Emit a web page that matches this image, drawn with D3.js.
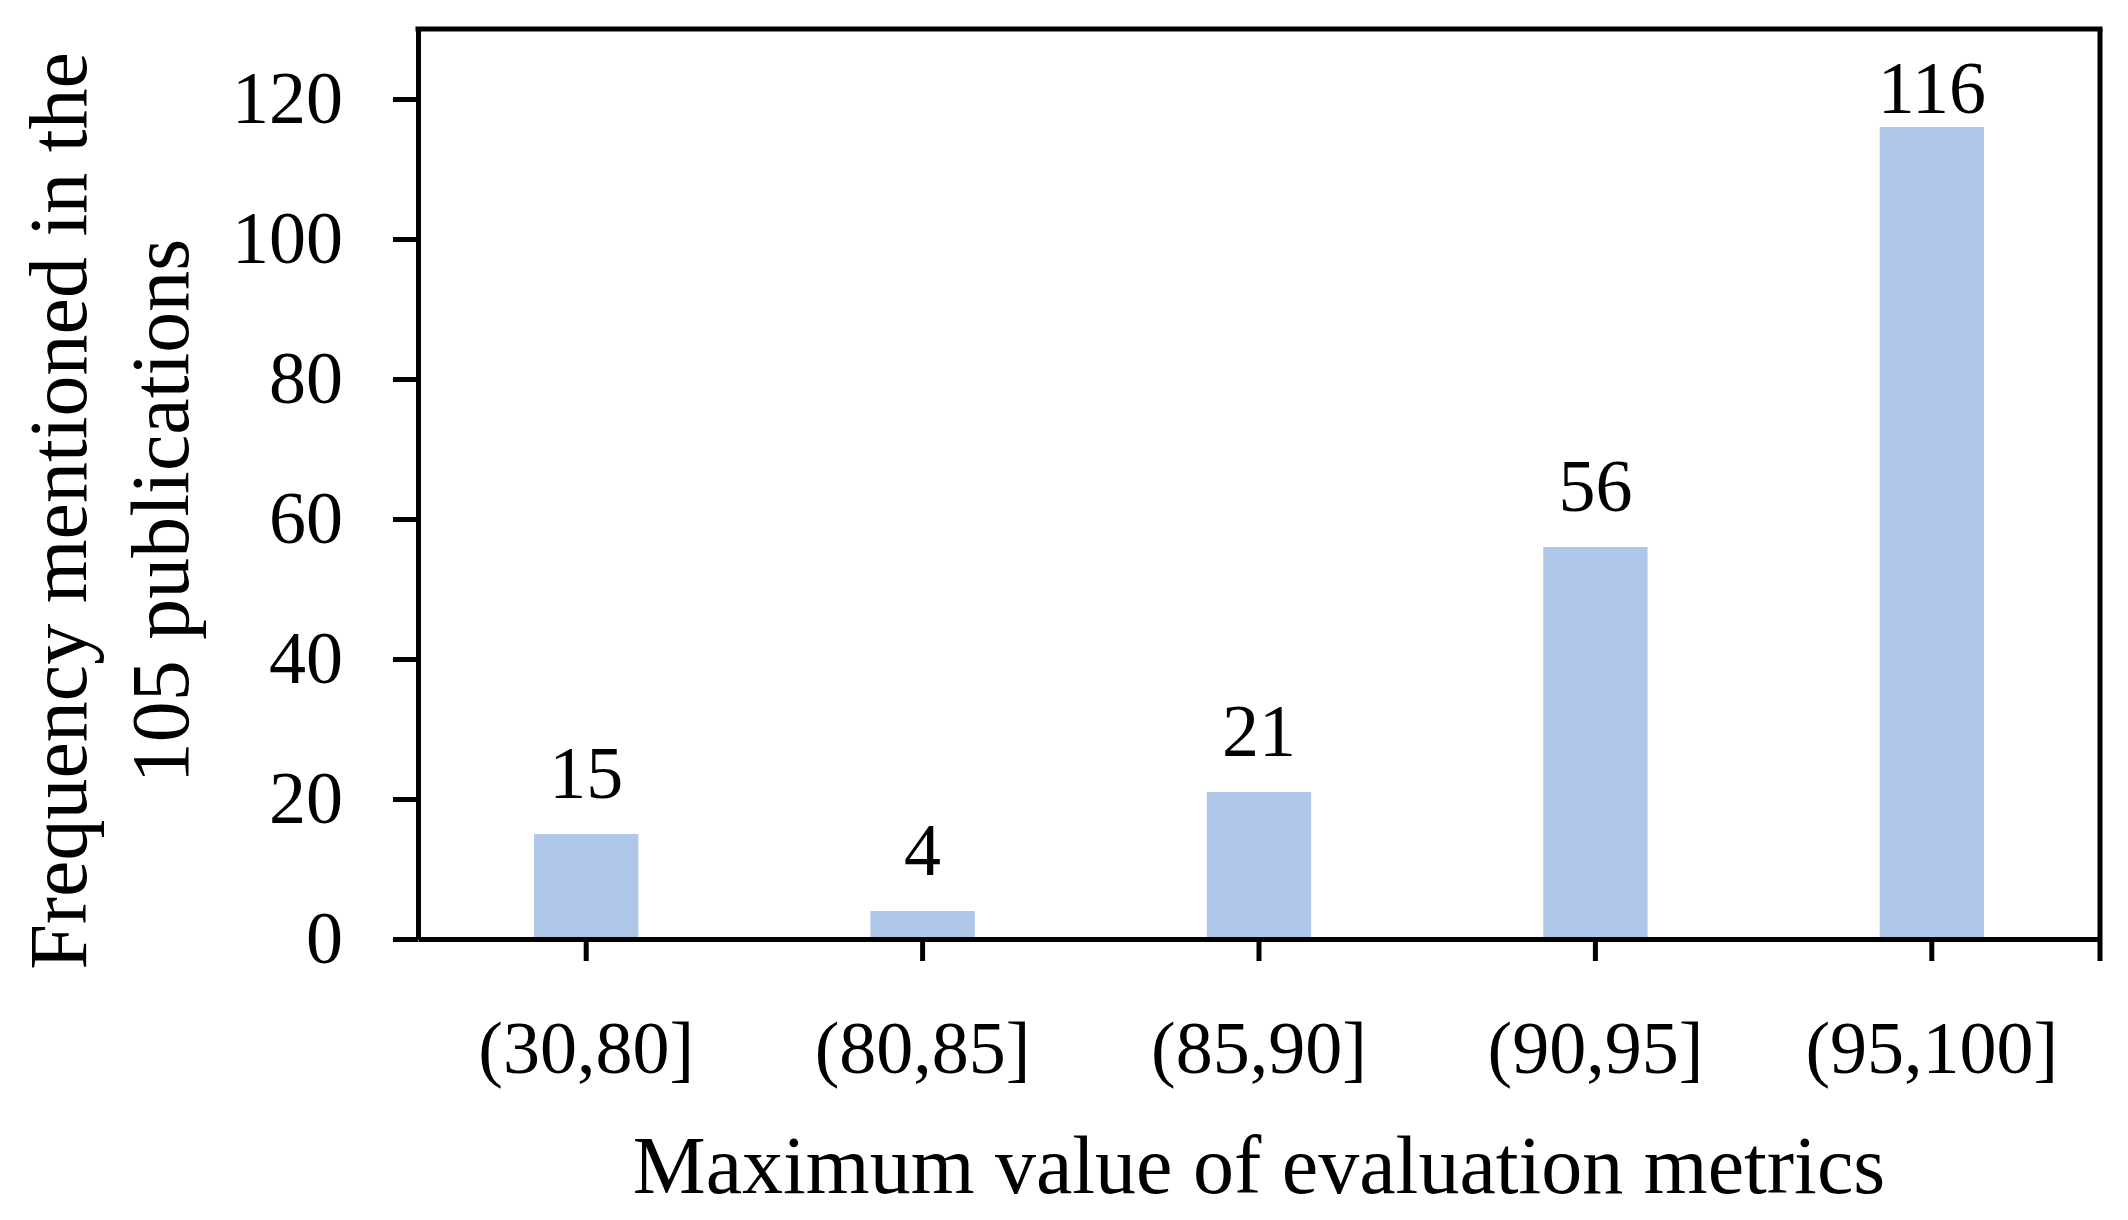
<!DOCTYPE html>
<html>
<head>
<meta charset="utf-8">
<script src="https://cdn.jsdelivr.net/npm/d3@7"></script>
<style>
  body { margin: 0; background: #fff; }
  svg { display: block; }
</style>
</head>
<body>
<svg id="chart"></svg>
<script>
// data
const categories = ["(30,80]", "(80,85]", "(85,90]", "(90,95]", "(95,100]"];
const counts = [15, 4, 21, 56, 116];
const yTicks = [0, 20, 40, 60, 80, 100, 120];
const xTitle = "Maximum value of evaluation metrics";
const yTitleLines = ["Frequency mentioned in the", "105 publications"];

const width = 2128, height = 1220;
const margin = ({left: 418, right: 2100, top: 29, bottom: 939});
const font = "'Liberation Serif', 'Times New Roman', serif";

const svg = d3.select("#chart")
    .attr("width", width)
    .attr("height", height)
    .style("font-family", font);

const x = d3.scaleBand()
    .domain(categories)
    .range([margin.left, margin.right])
    .paddingInner(0.69)
    .paddingOuter(0.345);

const y = d3.scaleLinear()
    .domain([0, 130])
    .range([margin.bottom, margin.top]);

// bars
svg.append("g")
    .attr("fill", "#aec7e8")
    .selectAll("rect")
    .data(counts)
    .join("rect")
    .attr("x", (d, i) => x(categories[i]))
    .attr("y", d => y(d))
    .attr("width", x.bandwidth())
    .attr("height", d => y(0) - y(d));

// value labels above bars (kept inside the plot like Excel does)
svg.append("g")
    .selectAll("text")
    .data(counts)
    .join("text")
    .attr("x", (d, i) => x(categories[i]) + x.bandwidth() / 2)
    .attr("y", d => Math.max(y(d) - 36, 113))
    .attr("text-anchor", "middle")
    .style("font-size", "74px")
    .attr("fill", "#000")
    .text(d => d);

// y axis
const yAxis = svg.append("g")
    .attr("transform", `translate(${margin.left},0)`)
    .call(d3.axisLeft(y).tickValues(yTicks).tickSizeInner(25).tickSizeOuter(0).tickPadding(50));
yAxis.select(".domain").attr("stroke-width", 5);
yAxis.selectAll(".tick line").attr("stroke-width", 5);
yAxis.selectAll(".tick text")
    .style("font-family", font)
    .style("font-size", "74px")
    .attr("fill", "#000");

// x axis
const xAxis = svg.append("g")
    .attr("transform", `translate(0,${margin.bottom})`)
    .call(d3.axisBottom(x).tickSizeInner(22).tickSizeOuter(0));
xAxis.select(".domain").attr("stroke-width", 5);
xAxis.selectAll(".tick line").attr("stroke-width", 5);
xAxis.selectAll(".tick text")
    .attr("y", 134)
    .attr("dy", 0)
    .style("font-family", font)
    .style("font-size", "74px")
    .attr("fill", "#000");

// frame: top and right sides
svg.append("line")
    .attr("x1", margin.left - 2.5).attr("x2", margin.right + 2.5)
    .attr("y1", margin.top).attr("y2", margin.top)
    .attr("stroke", "#000").attr("stroke-width", 5);
svg.append("line")
    .attr("x1", margin.right).attr("x2", margin.right)
    .attr("y1", margin.top).attr("y2", margin.bottom + 22)
    .attr("stroke", "#000").attr("stroke-width", 5);

// axis titles
svg.append("text")
    .attr("x", (margin.left + margin.right) / 2)
    .attr("y", 1193)
    .attr("text-anchor", "middle")
    .style("font-size", "82px")
    .text(xTitle);

svg.append("g")
    .selectAll("text")
    .data(yTitleLines)
    .join("text")
    .attr("transform", (d, i) => `translate(${86 + i * 102},511) rotate(-90)`)
    .attr("text-anchor", "middle")
    .style("font-size", "82px")
    .text(d => d);
</script>
</body>
</html>
